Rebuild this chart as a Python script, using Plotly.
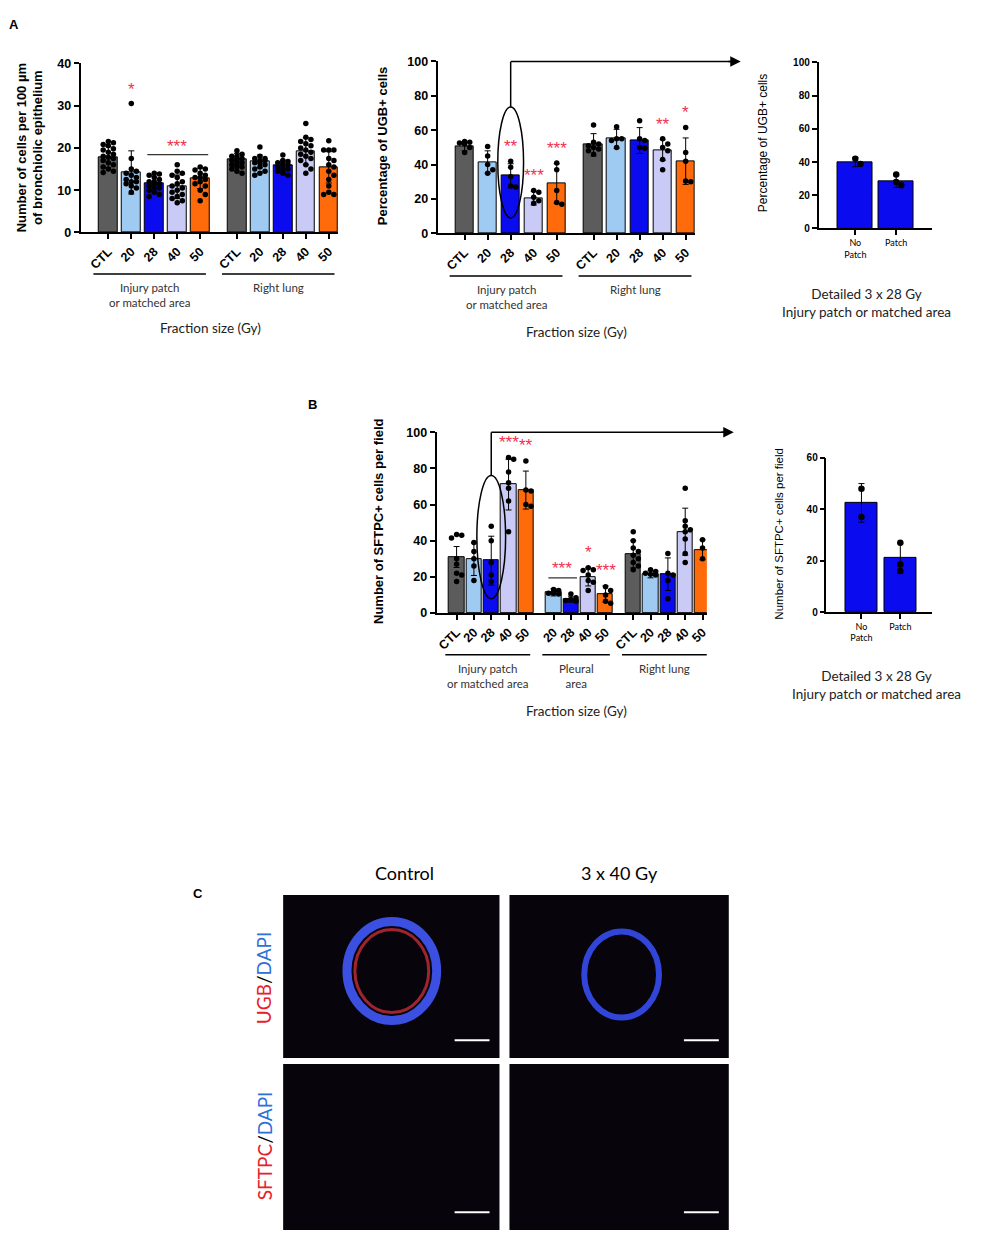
import numpy as np
import plotly.graph_objects as go

W, H = 992, 1245

# colour per fraction size
COLORS = {"CTL": "#5c5c5c", "20": "#9fcbf2", "28": "#0b0bf0", "40": "#cacaf6", "50": "#ff6a0a"}
STAR_RED = "#f2304e"

doses = ["CTL", "20", "28", "40", "50"]
pleural_doses = ["20", "28", "40", "50"]

# ---- A left: cells per 100 um of bronchiolic epithelium
a1_patch_mean = [17.8, 14.2, 11.5, 10.8, 12.8]
a1_patch_sd = [2.5, 5.1, 1.8, 2.8, 2.4]
a1_patch_pts = [
    [21.5, 21.2, 20.8, 20.5, 19.8, 19.5, 19.0, 18.5, 18.0, 17.8, 17.5, 17.0, 16.5, 16.0, 15.5, 15.0, 14.5, 14.2],
    [30.5, 17.5, 15.0, 14.5, 14.0, 13.5, 13.0, 12.5, 12.0, 12.0, 11.5, 11.0, 10.5, 9.5],
    [14.0, 13.8, 13.5, 13.0, 12.5, 12.0, 12.0, 11.5, 11.5, 11.0, 10.5, 10.5, 10.0, 9.5, 9.0, 8.5],
    [16.0, 14.5, 14.0, 13.5, 13.0, 12.0, 11.5, 11.0, 10.5, 10.0, 9.5, 9.0, 8.5, 8.0, 7.5, 7.0],
    [15.5, 15.0, 14.8, 14.0, 13.5, 13.0, 13.0, 12.5, 12.0, 11.5, 11.0, 10.0, 9.0, 7.5],
]
a1_lung_mean = [17.2, 16.8, 15.8, 19.2, 15.4]
a1_lung_sd = [1.5, 1.5, 1.3, 3.2, 3.7]
a1_lung_pts = [
    [19.3, 18.5, 18.0, 18.0, 17.5, 17.5, 17.0, 17.0, 16.5, 16.5, 16.0, 16.0, 15.5, 15.5, 15.0, 14.5, 14.0],
    [20.2, 18.0, 17.5, 17.5, 17.0, 17.0, 16.5, 16.5, 16.0, 15.5, 15.0, 14.5, 14.0, 13.5],
    [18.3, 17.0, 16.8, 16.5, 16.5, 16.0, 16.0, 15.5, 15.0, 15.0, 14.5, 14.0, 13.5],
    [25.8, 22.5, 22.0, 21.5, 21.0, 20.5, 20.0, 19.5, 19.0, 18.5, 18.0, 17.5, 17.0, 16.0, 15.0, 14.0],
    [21.7, 19.5, 19.5, 19.5, 17.5, 17.0, 16.0, 15.5, 14.5, 13.5, 12.5, 11.0, 9.5, 9.0, 9.0],
]
a1_patch_stars = ["", "*", "", "", ""]
a1_lung_stars = ["", "", "", "", ""]

# ---- A middle: percentage of UGB+ cells
a2_patch_mean = [50.5, 41.5, 33.5, 20.5, 29.0]
a2_patch_sd = [2.5, 6.5, 7.0, 4.0, 11.5]
a2_patch_pts = [
    [53.5, 53.0, 52.5, 52.0, 50.0, 47.0],
    [50.5, 45.0, 40.0, 37.0, 35.0],
    [42.0, 38.5, 33.0, 27.5, 27.0],
    [25.0, 24.0, 21.0, 19.0, 17.5],
    [41.0, 37.0, 25.0, 18.0, 17.0],
]
a2_lung_mean = [51.5, 55.0, 54.0, 48.5, 42.0]
a2_lung_sd = [6.5, 5.5, 7.5, 6.0, 13.5]
a2_lung_pts = [
    [63.0, 53.0, 52.0, 51.0, 50.0, 49.0, 48.0, 46.0],
    [62.0, 55.0, 55.0, 54.0, 50.0],
    [65.5, 55.0, 54.0, 50.0, 49.5],
    [55.0, 52.0, 50.0, 48.0, 43.0, 37.0],
    [61.5, 47.0, 42.0, 30.5, 30.0],
]
a2_patch_stars = ["", "", "**", "***", "***"]
a2_lung_stars = ["", "", "", "**", "*"]

# ---- A right: detailed 3 x 28 Gy
detail_cats = ["No<br>Patch", "Patch"]
a3_mean = [40.0, 28.5]
a3_sd = [2.8, 3.8]
a3_pts = [[42.0, 38.8], [32.5, 28.0, 26.0]]

# ---- B main: SFTPC+ cells per field
b1_patch_mean = [31.0, 29.8, 29.0, 71.0, 68.0]
b1_patch_sd = [5.8, 9.0, 13.5, 14.0, 10.5]
b1_patch_pts = [
    [43.5, 43.0, 41.5, 30.0, 27.0, 22.0, 21.0, 17.5],
    [39.0, 34.0, 30.0, 26.0, 18.0],
    [48.0, 40.0, 28.0, 21.0, 17.5],
    [86.0, 85.0, 78.0, 72.0, 69.0, 62.0, 45.0],
    [84.0, 68.0, 67.5, 60.0, 59.0],
]
b1_pleural_mean = [11.5, 7.5, 20.0, 10.5]
b1_pleural_sd = [2.0, 1.5, 5.0, 4.5]
b1_pleural_pts = [
    [13.0, 12.5, 11.0, 11.0, 10.5],
    [10.5, 8.5, 7.5, 7.0, 6.5],
    [25.0, 24.0, 23.5, 21.0, 18.0, 17.0, 12.5],
    [14.5, 12.5, 10.0, 6.5, 5.5],
]
b1_lung_mean = [32.5, 21.5, 21.5, 45.0, 35.0]
b1_lung_sd = [7.5, 2.0, 9.0, 13.0, 5.5]
b1_lung_pts = [
    [45.0, 40.0, 36.0, 34.0, 32.0, 30.0, 28.0, 26.0, 24.0],
    [24.0, 23.0, 22.0, 21.5, 21.0],
    [33.0, 22.0, 21.0, 18.0, 8.0],
    [69.0, 51.0, 48.0, 46.0, 45.0, 41.0, 33.0, 28.0],
    [40.5, 39.0, 36.0, 34.0, 30.0],
]
b1_patch_stars = ["", "", "", "***", "**"]
b1_pleural_stars = ["", "", "*", "***"]
b1_lung_stars = ["", "", "", "", ""]

# ---- B right: detailed 3 x 28 Gy
b2_mean = [42.5, 21.0]
b2_sd = [7.5, 5.8]
b2_pts = [[48.0, 37.0], [27.0, 18.5, 16.0]]

FONT = "Liberation Sans, Arial, sans-serif"
SOFT = "Lato, Open Sans, sans-serif"


def px(p):
    return p / W


def py(p):
    return 1 - p / H


fig = go.Figure()
shapes = []
annos = []


def swarm(vals, ppx, ppy, half, d=5.4):
    # simple beeswarm offsets (in axis units) so dots do not sit on each other
    placed = []
    offs = []
    for v in vals:
        y = v * ppy
        best, best_gap = 0.0, -1
        for k in [0, 1, -1, 2, -2, 3, -3, 4, -4]:
            x = k * d * 0.95
            if abs(x) / ppx > half:
                continue
            gap = min([np.hypot(x - a, y - b) for a, b in placed] or [99])
            if gap >= d:
                best = x
                break
            if gap > best_gap:
                best, best_gap = x, gap
        placed.append((best, y))
        offs.append(best / ppx)
    return offs


def chart(n, xpx, ypx, xr, yr, dtick, groups, bw, big=True, ticktext=None):
    xa = "x" if n == 1 else "x%d" % n
    ya = "y" if n == 1 else "y%d" % n
    ppx = (xpx[1] - xpx[0]) / (xr[1] - xr[0])
    ppy = (ypx[0] - ypx[1]) / (yr[1] - yr[0])
    tickv, tickt = [], []
    for cats, mean, sd, pts, start in groups:
        pos = [start + i for i in range(len(cats))]
        tickv += pos
        tickt += cats
        cols = [COLORS.get(c, COLORS["28"]) for c in cats]
        fig.add_trace(go.Bar(
            x=pos, y=mean, width=bw, xaxis=xa, yaxis=ya,
            marker=dict(color=cols, line=dict(color="black", width=1)),
            error_y=dict(type="data", array=sd, color="black", thickness=1, width=3),
            showlegend=False, hoverinfo="skip"))
        for p, vals in zip(pos, pts):
            offs = swarm(vals, ppx, ppy, bw * 0.42)
            fig.add_trace(go.Scatter(
                x=[p + o for o in offs], y=vals, mode="markers", xaxis=xa, yaxis=ya,
                marker=dict(color="black", size=5.5 if big else 6.5),
                showlegend=False, hoverinfo="skip", cliponaxis=False))
    lw = 2 if big else 1.5
    fig.layout[xa.replace("x", "xaxis")] = dict(
        domain=[px(xpx[0]), px(xpx[1])], range=xr, anchor=ya,
        tickvals=tickv, ticktext=ticktext or tickt, tickangle=-45 if big else 0,
        showline=True, linecolor="black", linewidth=lw, ticks="outside", ticklen=5,
        tickwidth=lw, tickcolor="black", showgrid=False, zeroline=False,
        tickfont=dict(family=FONT if big else SOFT, size=12.5 if big else 9,
                      color="black", weight="bold" if big else "normal"))
    fig.layout[ya.replace("y", "yaxis")] = dict(
        domain=[py(ypx[0]), py(ypx[1])], range=yr, anchor=xa, dtick=dtick,
        showline=True, linecolor="black", linewidth=lw, ticks="outside", ticklen=5,
        tickwidth=lw, tickcolor="black", showgrid=False, zeroline=False,
        tickfont=dict(family=FONT, size=12.5 if big else 10, color="black", weight="bold"))
    return xa, ya, ppx


def stars(xa, ya, groups, star_lists, span):
    for (cats, mean, sd, pts, start), sl in zip(groups, star_lists):
        for i, s in enumerate(sl):
            if not s:
                continue
            top = max(max(pts[i]), mean[i] + sd[i])
            annos.append(dict(x=start + i, y=top + 0.085 * span, xref=xa, yref=ya, text=s,
                              showarrow=False, font=dict(family=FONT, size=17, color=STAR_RED)))


def group_star(xa, ya, group, i0, i1, s, span):
    cats, mean, sd, pts, start = group
    top = max(max(max(p) for p in pts[i0:i1 + 1]), max(m + e for m, e in zip(mean[i0:i1 + 1], sd[i0:i1 + 1])))
    yl = top + 0.06 * span
    shapes.append(dict(type="line", xref=xa, yref=ya, x0=start + i0 - 0.3, x1=start + i1 + 0.35,
                       y0=yl, y1=yl, line=dict(color="#333333", width=1.2)))
    annos.append(dict(x=start + (i0 + i1) / 2, y=yl + 0.05 * span, xref=xa, yref=ya, text=s,
                      showarrow=False, font=dict(family=FONT, size=17, color=STAR_RED)))


def group_lines(xa, groups, labels, y_line, y_text):
    for (cats, mean, sd, pts, start), lab in zip(groups, labels):
        x0, x1 = start - 0.65, start + len(cats) - 1 + 0.25
        shapes.append(dict(type="line", xref=xa, yref="paper", x0=x0, x1=x1,
                           y0=py(y_line), y1=py(y_line), line=dict(color="black", width=1.5)))
        annos.append(dict(x=(x0 + x1) / 2, y=py(y_text), xref=xa, yref="paper", text=lab,
                          showarrow=False, xanchor="center", yanchor="top", align="center",
                          font=dict(family=SOFT, size=11.5, color="#333333")))


def title(x, y, text, size=13, bold=True, angle=-90):
    annos.append(dict(x=px(x), y=py(y), xref="paper", yref="paper", text=text, textangle=angle,
                      showarrow=False, align="center", xanchor="center", yanchor="middle",
                      font=dict(family=FONT, size=size, color="black", weight="bold" if bold else "normal")))


def label(x, y, text, size=13.5, family=SOFT, color="#222222", weight="normal"):
    annos.append(dict(x=px(x), y=py(y), xref="paper", yref="paper", text=text, showarrow=False,
                      align="center", xanchor="center", yanchor="middle",
                      font=dict(family=family, size=size, color=color, weight=weight)))


# ---------------- A left
g1 = [(doses, a1_patch_mean, a1_patch_sd, a1_patch_pts, 0),
      (doses, a1_lung_mean, a1_lung_sd, a1_lung_pts, 5.6)]
xa, ya, _ = chart(1, (80, 338), (228, 57), [-1.2, 10.0], [0, 40], 10, g1, 0.82)
stars(xa, ya, g1, [a1_patch_stars, a1_lung_stars], 40)
group_star(xa, ya, g1[0], 2, 4, "***", 40)
group_lines(xa, g1, ["Injury patch<br>or matched area", "Right lung"], 270, 275)
title(29, 142, "Number of cells per 100 µm<br>of bronchiolic epithelium")
label(210, 325, "Fraction size (Gy)")

# ---------------- A middle
g2 = [(doses, a2_patch_mean, a2_patch_sd, a2_patch_pts, 0),
      (doses, a2_lung_mean, a2_lung_sd, a2_lung_pts, 5.6)]
xa2, ya2, ppx2 = chart(2, (438, 696), (229, 55), [-1.17, 10.0], [0, 100], 20, g2, 0.82)
stars(xa2, ya2, g2, [a2_patch_stars, a2_lung_stars], 100)
group_lines(xa2, g2, ["Injury patch<br>or matched area", "Right lung"], 272, 277)
title(383, 140, "Percentage of UGB+ cells")
label(577, 329, "Fraction size (Gy)")
shapes.append(dict(type="circle", xref=xa2, yref=ya2, x0=2 - 0.56, x1=2 + 0.56, y0=9, y1=73.5,
                   line=dict(color="black", width=1.5)))
shapes.append(dict(type="line", xref=xa2, yref=ya2, x0=2, x1=2, y0=73.5, y1=100,
                   line=dict(color="black", width=1.5)))
xc2 = 438 + (2 + 1.17) * ppx2
shapes.append(dict(type="line", xref="paper", yref="paper", x0=px(xc2), x1=px(735),
                   y0=py(55), y1=py(55), line=dict(color="black", width=1.5)))
annos.append(dict(x=px(742), y=py(55), xref="paper", yref="paper", text="", showarrow=True,
                  ax=-14, ay=0, arrowhead=2, arrowsize=1.4, arrowwidth=1.5, arrowcolor="black"))

# ---------------- A right
g3 = [(["28", "28"], a3_mean, a3_sd, a3_pts, 0)]
chart(3, (820, 934), (224, 56), [-0.9, 1.88], [0, 100], 20, g3, 0.85, big=False, ticktext=detail_cats)
title(765, 138, "Percentage of UGB+ cells", size=12, bold=False)
label(868, 299, "Detailed 3 x 28 Gy<br>Injury patch or matched area", size=13.5)

# ---------------- B main
g4 = [(doses, b1_patch_mean, b1_patch_sd, b1_patch_pts, 0),
      (pleural_doses, b1_pleural_mean, b1_pleural_sd, b1_pleural_pts, 5.6),
      (doses, b1_lung_mean, b1_lung_sd, b1_lung_pts, 10.2)]
xa4, ya4, ppx4 = chart(4, (437, 708), (613, 430), [-1.15, 14.45], [0, 100], 20, g4, 0.88)
stars(xa4, ya4, g4, [b1_patch_stars, b1_pleural_stars, b1_lung_stars], 100)
group_star(xa4, ya4, g4[1], 0, 1, "***", 100)
group_lines(xa4, g4, ["Injury patch<br>or matched area", "Pleural<br>area", "Right lung"], 655, 660)
title(378, 520, "Number of SFTPC+ cells per field")
label(577, 712, "Fraction size (Gy)")
shapes.append(dict(type="circle", xref=xa4, yref=ya4, x0=2 - 0.83, x1=2 + 0.83, y0=8, y1=76,
                   line=dict(color="black", width=1.5)))
shapes.append(dict(type="line", xref=xa4, yref=ya4, x0=2, x1=2, y0=76, y1=100,
                   line=dict(color="black", width=1.5)))
xc4 = 437 + (2 + 1.15) * ppx4
shapes.append(dict(type="line", xref="paper", yref="paper", x0=px(xc4), x1=px(728),
                   y0=py(430), y1=py(430), line=dict(color="black", width=1.5)))
annos.append(dict(x=px(735), y=py(430), xref="paper", yref="paper", text="", showarrow=True,
                  ax=-14, ay=0, arrowhead=2, arrowsize=1.4, arrowwidth=1.5, arrowcolor="black"))

# ---------------- B right
g5 = [(["28", "28"], b2_mean, b2_sd, b2_pts, 0)]
chart(5, (828, 934), (612, 456), [-0.9, 1.82], [0, 60], 20, g5, 0.82, big=False, ticktext=detail_cats)
title(780, 533, "Number of SFTPC+ cells per field", size=11.5, bold=False)
label(878, 686, "Detailed 3 x 28 Gy<br>Injury patch or matched area", size=13.5)

# ---------------- panel letters
label(13, 18, "A", size=13, family=FONT, color="black", weight="bold")
label(312, 402, "B", size=13, family=FONT, color="black", weight="bold")
label(198, 897, "C", size=13, family=FONT, color="black", weight="bold")

# ---------------- C: immunofluorescence panels (placeholders)
label(405, 876, "Control", size=18, color="black")
label(620, 876, "3 x 40 Gy", size=18, color="black")
boxes = [(283, 500, 898, 1063), (510, 730, 898, 1063), (283, 500, 1069, 1237), (510, 730, 1069, 1237)]
for x0, x1, y0, y1 in boxes:
    shapes.append(dict(type="rect", xref="paper", yref="paper", x0=px(x0), x1=px(x1), y0=py(y1), y1=py(y0),
                       fillcolor="#07040c", line=dict(width=0), layer="below"))
    shapes.append(dict(type="line", xref="paper", yref="paper", x0=px(x1 - 45), x1=px(x1 - 10),
                       y0=py(y1 - 18), y1=py(y1 - 18), line=dict(color="white", width=2)))
# bronchiole rings in the UGB row
shapes.append(dict(type="circle", xref="paper", yref="paper", x0=px(347), x1=px(437), y0=py(1025), y1=py(925),
                   line=dict(color="#3b4fe0", width=9)))
shapes.append(dict(type="circle", xref="paper", yref="paper", x0=px(355), x1=px(429), y0=py(1017), y1=py(933),
                   line=dict(color="#a0242e", width=3)))
shapes.append(dict(type="circle", xref="paper", yref="paper", x0=px(585), x1=px(660), y0=py(1022), y1=py(935),
                   line=dict(color="#3146d8", width=6)))
annos.append(dict(x=px(264), y=py(982), xref="paper", yref="paper", textangle=-90, showarrow=False,
                  xanchor="center", yanchor="middle",
                  text="<span style='color:#e8202a'>UGB</span>/<span style='color:#2f6fd8'>DAPI</span>",
                  font=dict(family=SOFT, size=19, color="black")))
annos.append(dict(x=px(264), y=py(1152), xref="paper", yref="paper", textangle=-90, showarrow=False,
                  xanchor="center", yanchor="middle",
                  text="<span style='color:#e8202a'>SFTPC</span>/<span style='color:#2f6fd8'>DAPI</span>",
                  font=dict(family=SOFT, size=19, color="black")))

fig.update_layout(
    width=W, height=H, margin=dict(l=0, r=0, t=0, b=0),
    paper_bgcolor="white", plot_bgcolor="white",
    bargap=0, showlegend=False,
    shapes=shapes, annotations=annos,
)

# drop the browser's default body margin so the figure sits at (0, 0)
fig.write_html("out.html", config={"displayModeBar": False},
               post_script="document.body.style.margin='0';")
